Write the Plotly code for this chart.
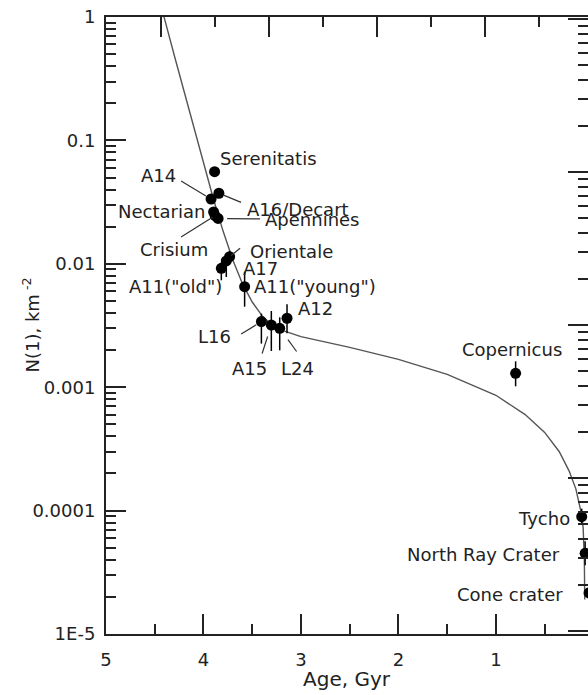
import math
import plotly.graph_objects as go

# ---------------- data ----------------
names = ["Serenitatis", "A14", "A16/Decart", "Nectarian", "Crisium", "Apennines",
         "Orientale", "A17", 'A11("old")', 'A11("young")', "L16", "A15", "L24", "A12",
         "Copernicus", "Tycho", "North Ray Crater", "Cone crater"]
ages = [3.886, 3.922, 3.842, 3.896, 3.881, 3.850, 3.732, 3.766, 3.817, 3.578,
        3.406, 3.304, 3.218, 3.143, 0.798, 0.120, 0.085, 0.045]
n1 = [0.0558, 0.0335, 0.0373, 0.0263, 0.0246, 0.0233, 0.01141, 0.01054, 0.00919, 0.00652,
      0.00340, 0.00319, 0.00300, 0.00362, 0.001296, 8.93e-5, 4.51e-5, 2.15e-5]
err_up = [0, 0, 0, 0, 0, 0, 0.00135, 0.00125, 0.00109, 0.00211,
          0.000548, 0.000953, 0.000684, 0.00108, 0.000325, 1.44e-5, 1.13e-5, 4.4e-6]
err_dn = [0, 0, 0, 0, 0, 0, 0.00121, 0.00272, 0.00184, 0.00203,
          0.001144, 0.001226, 0.00101, 0.000884, 0.000279, 1.24e-5, 9.0e-6, 3.7e-6]

curve_age = [4.45, 4.40, 4.30, 4.20, 4.10, 4.00, 3.90, 3.80, 3.70, 3.60, 3.50, 3.40,
             3.30, 3.20, 3.00, 2.50, 2.00, 1.50, 1.00, 0.70, 0.50, 0.35, 0.25, 0.18,
             0.14, 0.12, 0.105, 0.097, 0.093, 0.091, 0.089]
curve_n1 = [1.3, 0.97, 0.49, 0.25, 0.126, 0.064, 0.034, 0.0185, 0.0108, 0.0069, 0.0049, 0.0038,
            0.0032, 0.0029, 0.00257, 0.0021, 0.00168, 0.00127, 0.00086, 0.00060, 0.00043,
            0.00030, 0.00021, 0.000150, 0.000112, 0.000092, 0.000072, 0.000055, 0.000040,
            0.000028, 0.000019]

y_tickvals = [1e-5, 1e-4, 1e-3, 1e-2, 1e-1, 1]
y_ticktext = ["1E-5", "0.0001", "0.001", "0.01", "0.1", "1"]
x_tickvals = [0, 1, 2, 3, 4, 5]
x_ticktext = ["0", "1", "2", "3", "4", "5"]

# ---------------- styles ----------------
FONT = "DejaVu Sans"
INK = "#222222"
LBL = 18

# label placement: name -> (xanchor, xshift, yshift)
label_pos = {
    "Serenitatis": ("left", 3, 13.4),
    "A14": ("right", -33, 24),
    "A16/Decart": ("left", 25.7, -16),
    "Nectarian": ("right", -7, 0),
    "Crisium": ("right", -5.5, -33.8),
    "Apennines": ("left", 45, -1.5),
    "Orientale": ("left", 18.3, 5),
    "A17": ("left", 15, -7.3),
    'A11("old")': ("right", 2.3, -18.4),
    'A11("young")': ("left", 7.7, 0),
    "L16": ("right", -28.4, -15),
    "A15": ("center", -21.7, -43.3),
    "L24": ("center", 17.5, -40),
    "A12": ("left", 9.4, 10),
    "Copernicus": ("center", -4, 24.3),
}
# labels at the right edge: name -> (xshift from right edge, yshift)
edge_labels = {
    "Tycho": (-16.3, -1.6),
    "North Ray Crater": (-26.3, -1.7),
    "Cone crater": (-23, -2),
}
# leader lines: name -> (ax, ay of the far end in screen px, standoff at point)
leaders = {
    "A14": (-31.5, -19, 6),
    "A16/Decart": (23.7, 9.7, 5),
    "Apennines": (43.5, 0.5, 9),
    "Crisium": (-35.5, 22.5, 3),
    "Orientale": (12, -9.7, 2),
    "L16": (-21.7, 13.3, 6),
    "A15": (-9.7, 30, 12),
    "L24": (18, 24.7, 14),
}

W, H = 588, 695

fig = go.Figure()

fig.add_trace(go.Scatter(x=curve_age, y=curve_n1, mode="lines",
                         line=dict(color="#555555", width=1.4), hoverinfo="skip",
                         showlegend=False))

fig.add_trace(go.Scatter(x=ages, y=n1, mode="markers",
                         marker=dict(color="black", size=11),
                         error_y=dict(type="data", symmetric=False, array=err_up,
                                      arrayminus=err_dn, width=0, thickness=1.5,
                                      color="black"),
                         text=names, showlegend=False))

# dummy empty traces so the overlay axes are drawn
fig.add_trace(go.Scatter(x=[], y=[], xaxis="x2", yaxis="y", showlegend=False))
fig.add_trace(go.Scatter(x=[], y=[], xaxis="x", yaxis="y2", showlegend=False))

idx = {n: i for i, n in enumerate(names)}

for name, (ax_, ay_, so) in leaders.items():
    i = idx[name]
    fig.add_annotation(x=ages[i], y=math.log10(n1[i]), xref="x", yref="y", text="",
                       showarrow=True, arrowhead=0, arrowwidth=1.2, arrowcolor="#333333",
                       ax=ax_, ay=ay_, standoff=so)

for name, (xa, xs, ys) in label_pos.items():
    i = idx[name]
    fig.add_annotation(x=ages[i], y=math.log10(n1[i]), xref="x", yref="y", text=name,
                       showarrow=False, xanchor=xa, yanchor="middle",
                       xshift=xs, yshift=ys,
                       font=dict(family=FONT, size=LBL, color=INK))

for name, (xs, ys) in edge_labels.items():
    i = idx[name]
    fig.add_annotation(x=1, y=math.log10(n1[i]), xref="paper", yref="y", text=name,
                       showarrow=False, xanchor="right", yanchor="middle",
                       xshift=xs, yshift=ys,
                       font=dict(family=FONT, size=LBL, color=INK))

# axis titles
fig.add_annotation(x=0, y=0.5, xref="paper", yref="paper", xshift=-75,
                   text="N(1), km<sup> -2</sup>", textangle=-90, showarrow=False,
                   xanchor="center", yanchor="middle",
                   font=dict(family=FONT, size=18, color=INK))
fig.add_annotation(x=0.5, y=0, xref="paper", yref="paper", yshift=-45,
                   text="Age, Gyr", showarrow=False, xanchor="center", yanchor="middle",
                   font=dict(family=FONT, size=20, color=INK))

y_minor = [m * 10 ** e for e in range(-5, 0) for m in range(2, 10)]
y2_minor = [m * 10 ** e for e in range(-5, 1) for m in range(2, 10)]

fig.update_layout(
    width=W, height=H,
    margin=dict(l=106, r=0, t=17, b=61),
    paper_bgcolor="white", plot_bgcolor="white",
    font=dict(family=FONT, color=INK),
    xaxis=dict(range=[5, 0.0555], showgrid=False, zeroline=False,
               showline=True, linecolor=INK, linewidth=2, mirror=False,
               tickmode="array", tickvals=x_tickvals, ticktext=x_ticktext,
               ticks="inside", ticklen=20, tickwidth=1.6, tickcolor=INK,
               ticklabelstandoff=8,
               tickfont=dict(family=FONT, size=18, color=INK),
               minor=dict(ticks="inside", ticklen=10, tickwidth=1.6, tickcolor=INK,
                          dtick=0.5, tick0=0, showgrid=False)),
    xaxis2=dict(overlaying="x", side="top", anchor="y", range=[4.5126, 0.0501],
                showgrid=False, zeroline=False, showline=True, linecolor=INK, linewidth=2,
                tickmode="array", tickvals=[1, 2, 3, 4], showticklabels=False,
                ticks="inside", ticklen=20, tickwidth=1.6, tickcolor=INK,
                minor=dict(ticks="inside", ticklen=10, tickwidth=1.6, tickcolor=INK,
                           tickvals=[0.5, 1.5, 2.5, 3.5], showgrid=False)),
    yaxis=dict(type="log", range=[-5, 0], showgrid=False, zeroline=False,
               showline=True, linecolor=INK, linewidth=2, mirror=False,
               tickmode="array", tickvals=y_tickvals, ticktext=y_ticktext,
               ticks="inside", ticklen=20, tickwidth=1.6, tickcolor=INK,
               ticklabelstandoff=5,
               tickfont=dict(family=FONT, size=18, color=INK),
               minor=dict(ticks="inside", ticklen=10, tickwidth=1.6, tickcolor=INK,
                          tickvals=y_minor, showgrid=False)),
    yaxis2=dict(type="log", overlaying="y", side="right", anchor="x", range=[-4.02, 0.013],
                showgrid=False, zeroline=False, showline=False,
                tickmode="array", tickvals=[1e-4, 1e-3, 1e-2, 1e-1, 1], showticklabels=False,
                ticks="inside", ticklen=20, tickwidth=1.6, tickcolor=INK,
                minor=dict(ticks="inside", ticklen=10, tickwidth=1.6, tickcolor=INK,
                           tickvals=y2_minor, showgrid=False)),
    showlegend=False,
)

fig.write_html("out.html",
               config={"displayModeBar": False},
               post_script="document.body.style.margin='0';"
                           "document.body.style.overflow='hidden';")
